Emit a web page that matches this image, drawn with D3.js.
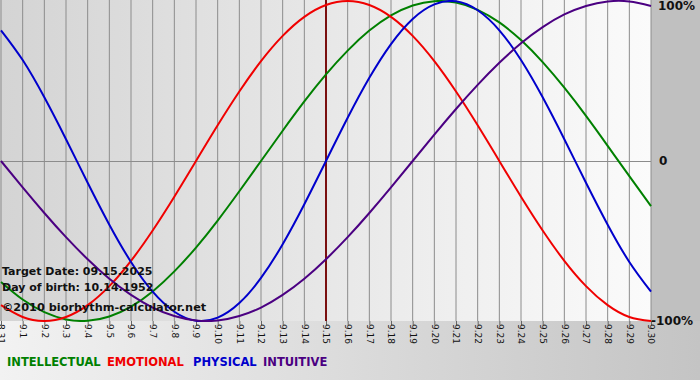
<!DOCTYPE html>
<html>
<head>
<meta charset="utf-8">
<script src="https://cdn.jsdelivr.net/npm/d3@7"></script>
<style>
  body { margin: 0; background: #fff; }
  svg { display: block; font-family: "DejaVu Sans", Verdana, sans-serif; }
</style>
</head>
<body>
<div id="chart"></div>
<script>
// days shown on the x axis
const days = ["8.31", "9.1", "9.2", "9.3", "9.4", "9.5", "9.6", "9.7", "9.8", "9.9", "9.10",
    "9.11", "9.12", "9.13", "9.14", "9.15", "9.16", "9.17", "9.18", "9.19", "9.20",
    "9.21", "9.22", "9.23", "9.24", "9.25", "9.26", "9.27", "9.28", "9.29", "9.30"];

// cycle values in percent, one per day
const physical = [81.7, 63.1, 39.8, 13.6, -13.6, -39.8, -63.1, -81.7, -94.2, -99.8, -97.9,
    -88.8, -73.1, -52.0, -27.0, 0, 27.0, 52.0, 73.1, 88.8, 97.9,
    99.8, 94.2, 81.7, 63.1, 39.8, 13.6, -13.6, -39.8, -63.1, -81.7];
const emotional = [-90.1, -97.5, -100, -97.5, -90.1, -78.2, -62.4, -43.4, -22.3, 0, 22.3,
    43.4, 62.4, 78.2, 90.1, 97.5, 100, 97.5, 90.1, 78.2, 62.4,
    43.4, 22.3, 0, -22.3, -43.4, -62.4, -78.2, -90.1, -97.5, -100];
const intellectual = [-75.6, -86.6, -94.5, -99.0, -99.9, -97.2, -91.0, -81.5, -69.0, -54.1, -37.2,
    -18.9, 0, 18.9, 37.2, 54.1, 69.0, 81.5, 91.0, 97.2, 99.9,
    99.0, 94.5, 86.6, 75.6, 61.8, 45.8, 28.2, 9.5, -9.5, -28.2];
const intuitive = [0, -16.5, -32.5, -47.6, -61.4, -73.6, -83.7, -91.6, -96.9, -99.7, -99.7,
    -96.9, -91.6, -83.7, -73.6, -61.4, -47.6, -32.5, -16.5, 0, 16.5,
    32.5, 47.6, 61.4, 73.6, 83.7, 91.6, 96.9, 99.7, 99.7, 96.9];

const targetDay = "9.15";

const series = [
    { name: "INTELLECTUAL", values: intellectual, color: "#008000" },
    { name: "EMOTIONAL", values: emotional, color: "#f00000" },
    { name: "PHYSICAL", values: physical, color: "#0000cc" },
    { name: "INTUITIVE", values: intuitive, color: "#4b0082" }
];

const W = 700, H = 380;
const plot = { left: 1, right: 651, top: 1, bottom: 321 };

const svg = d3.select("#chart").append("svg")
    .attr("width", W)
    .attr("height", H);

// gradients
const defs = svg.append("defs");
const gPlot = defs.append("linearGradient").attr("id", "gPlot");
gPlot.append("stop").attr("offset", "0%").attr("stop-color", "#d4d4d4");
gPlot.append("stop").attr("offset", "100%").attr("stop-color", "#fbfbfb");
const gBottom = defs.append("linearGradient").attr("id", "gBottom");
gBottom.append("stop").attr("offset", "0%").attr("stop-color", "#f2f2f2");
gBottom.append("stop").attr("offset", "100%").attr("stop-color", "#c4c4c4");

svg.append("rect").attr("width", W).attr("height", H).attr("fill", "url(#gBottom)");
svg.append("rect")
    .attr("x", plot.right).attr("y", 0)
    .attr("width", W - plot.right).attr("height", plot.bottom)
    .attr("fill", "#c0c0c0");
svg.append("rect")
    .attr("x", 0).attr("y", 0)
    .attr("width", plot.right).attr("height", plot.bottom)
    .attr("fill", "url(#gPlot)");

// scales
const x = d3.scalePoint()
    .domain(days)
    .range([plot.left, plot.right]);

const y = d3.scaleLinear()
    .domain([-100, 100])
    .range([plot.bottom, plot.top]);

// grid
svg.append("g")
    .selectAll("line")
    .data(days)
    .enter()
    .append("line")
    .attr("x1", d => x(d)).attr("x2", d => x(d))
    .attr("y1", 0).attr("y2", plot.bottom)
    .attr("stroke", "#8c8c8c")
    .attr("stroke-width", 1);

svg.append("line")
    .attr("x1", 0).attr("x2", plot.right)
    .attr("y1", Math.round(y(0)) + 0.5).attr("y2", Math.round(y(0)) + 0.5)
    .attr("stroke", "#8c8c8c");

// x axis
const xAxis = svg.append("g")
    .attr("transform", `translate(0,${plot.bottom})`)
    .call(d3.axisBottom(x).tickSize(4).tickSizeOuter(0));
xAxis.select(".domain").remove();
xAxis.selectAll("line").attr("stroke", "#666");
xAxis.selectAll("text")
    .attr("transform", "rotate(90)")
    .attr("x", 3)
    .attr("y", 0)
    .attr("dy", "0.35em")
    .style("text-anchor", "start")
    .style("font-size", "9px")
    .style("font-family", "DejaVu Sans, sans-serif")
    .attr("fill", "#111");

// target day marker
svg.append("line")
    .attr("x1", x(targetDay)).attr("x2", x(targetDay))
    .attr("y1", 0).attr("y2", plot.bottom)
    .attr("stroke", "#7a1010")
    .attr("stroke-width", 2);

// curves
const line = d3.line()
    .x((d, i) => x(days[i]))
    .y(d => y(d))
    .curve(d3.curveNatural);

svg.append("clipPath").attr("id", "clip")
    .append("rect").attr("x", 0).attr("y", 0).attr("width", plot.right + 1).attr("height", plot.bottom + 1);

svg.append("g")
    .attr("clip-path", "url(#clip)")
    .selectAll("path")
    .data(series)
    .enter()
    .append("path")
    .attr("d", d => line(d.values))
    .attr("fill", "none")
    .attr("stroke", d => d.color)
    .attr("stroke-width", 2);

// right labels
const yLabels = [{ v: 100, t: "100%" }, { v: 0, t: "0" }, { v: -100, t: "-100%" }];
svg.append("g")
    .selectAll("text")
    .data(yLabels)
    .enter()
    .append("text")
    .attr("x", d => d.v === -100 ? 651 : (d.v === 0 ? 659 : 658))
    .attr("y", d => y(d.v))
    .attr("dy", d => d.v === 100 ? "0.75em" : "0.35em")
    .style("font-size", "12px")
    .style("font-weight", "bold")
    .attr("fill", "#111")
    .text(d => d.t);

// info text
const info = ["Target Date: 09.15.2025", "Day of birth: 10.14.1952", "\u00a92010 biorhythm-calculator.net"];
svg.append("g")
    .selectAll("text")
    .data(info)
    .enter()
    .append("text")
    .attr("x", 2)
    .attr("y", (d, i) => [275, 291, 311][i])
    .style("font-size", (d, i) => i === 2 ? "11.3px" : "11px")
    .style("font-weight", "bold")
    .attr("fill", "#111")
    .text(d => d);

// legend
const legendX = [7, 107, 193, 263];
svg.append("g")
    .selectAll("text")
    .data(series)
    .enter()
    .append("text")
    .attr("x", (d, i) => legendX[i])
    .attr("y", 366)
    .style("font-size", "11.5px")
    .style("font-weight", "bold")
    .attr("fill", d => d.color)
    .text(d => d.name);
</script>
</body>
</html>
